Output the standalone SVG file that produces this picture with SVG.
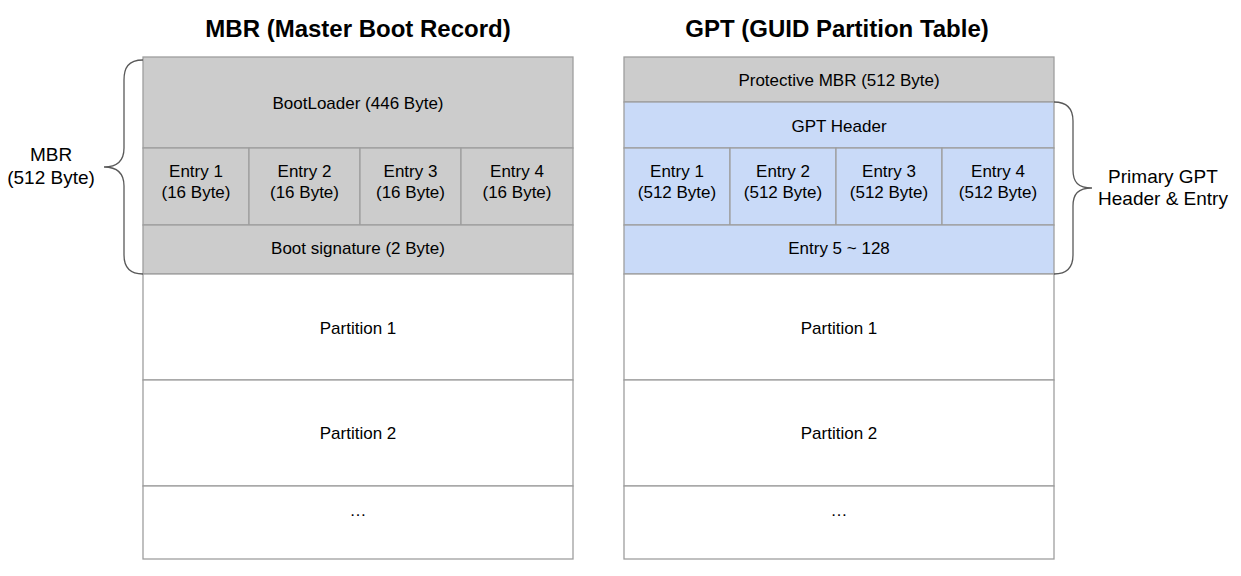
<svg xmlns="http://www.w3.org/2000/svg" width="1241" height="576" viewBox="0 0 1241 576">
  <style>
    .title { font-family: "Liberation Sans", Arial, sans-serif; font-size: 24px; font-weight: bold; fill: #000; text-anchor: middle; }
    .cell  { font-family: "Liberation Sans", Arial, sans-serif; font-size: 17px; fill: #000; text-anchor: middle; dominant-baseline: central; }
    .side  { font-family: "Liberation Sans", Arial, sans-serif; font-size: 19px; fill: #000; text-anchor: middle; dominant-baseline: central; }
    .grey  { fill: #cccccc; stroke: #9e9e9e; stroke-width: 1.3; }
    .blue  { fill: #c9daf8; stroke: #9e9e9e; stroke-width: 1.3; }
    .white { fill: #ffffff; stroke: #9e9e9e; stroke-width: 1.3; }
    .brace { fill: none; stroke: #595959; stroke-width: 1.3; }
  </style>

  <text class="title" x="358" y="37">MBR (Master Boot Record)</text>
  <text class="title" x="837" y="37">GPT (GUID Partition Table)</text>

  <!-- MBR layout -->
  <g id="mbr">
    <g id="mbr-bootloader">
      <rect class="grey" x="143" y="57" width="430" height="91"/>
      <text class="cell" x="358" y="103">BootLoader (446 Byte)</text>
    </g>
    <g id="mbr-entry1">
      <rect class="grey" x="143" y="148" width="106" height="77"/>
      <text class="cell" x="196" y="171">Entry 1</text>
      <text class="cell" x="196" y="192">(16 Byte)</text>
    </g>
    <g id="mbr-entry2">
      <rect class="grey" x="249" y="148" width="111" height="77"/>
      <text class="cell" x="304.5" y="171">Entry 2</text>
      <text class="cell" x="304.5" y="192">(16 Byte)</text>
    </g>
    <g id="mbr-entry3">
      <rect class="grey" x="360" y="148" width="101" height="77"/>
      <text class="cell" x="410.5" y="171">Entry 3</text>
      <text class="cell" x="410.5" y="192">(16 Byte)</text>
    </g>
    <g id="mbr-entry4">
      <rect class="grey" x="461" y="148" width="112" height="77"/>
      <text class="cell" x="517" y="171">Entry 4</text>
      <text class="cell" x="517" y="192">(16 Byte)</text>
    </g>
    <g id="mbr-signature">
      <rect class="grey" x="143" y="225" width="430" height="49"/>
      <text class="cell" x="358" y="248">Boot signature (2 Byte)</text>
    </g>
    <g id="mbr-partition1">
      <rect class="white" x="143" y="274" width="430" height="106"/>
      <text class="cell" x="358" y="328">Partition 1</text>
    </g>
    <g id="mbr-partition2">
      <rect class="white" x="143" y="380" width="430" height="106"/>
      <text class="cell" x="358" y="433">Partition 2</text>
    </g>
    <g id="mbr-more">
      <rect class="white" x="143" y="486" width="430" height="73"/>
      <text class="cell" x="358" y="510">…</text>
    </g>
  </g>

  <!-- GPT layout -->
  <g id="gpt">
    <g id="gpt-protective">
      <rect class="grey" x="624" y="57" width="430" height="45"/>
      <text class="cell" x="839" y="80">Protective MBR (512 Byte)</text>
    </g>
    <g id="gpt-header">
      <rect class="blue" x="624" y="102" width="430" height="46"/>
      <text class="cell" x="839" y="126">GPT Header</text>
    </g>
    <g id="gpt-entry1">
      <rect class="blue" x="624" y="148" width="106" height="77"/>
      <text class="cell" x="677" y="171">Entry 1</text>
      <text class="cell" x="677" y="192">(512 Byte)</text>
    </g>
    <g id="gpt-entry2">
      <rect class="blue" x="730" y="148" width="106" height="77"/>
      <text class="cell" x="783" y="171">Entry 2</text>
      <text class="cell" x="783" y="192">(512 Byte)</text>
    </g>
    <g id="gpt-entry3">
      <rect class="blue" x="836" y="148" width="106" height="77"/>
      <text class="cell" x="889" y="171">Entry 3</text>
      <text class="cell" x="889" y="192">(512 Byte)</text>
    </g>
    <g id="gpt-entry4">
      <rect class="blue" x="942" y="148" width="112" height="77"/>
      <text class="cell" x="998" y="171">Entry 4</text>
      <text class="cell" x="998" y="192">(512 Byte)</text>
    </g>
    <g id="gpt-entries-rest">
      <rect class="blue" x="624" y="225" width="430" height="49"/>
      <text class="cell" x="839" y="248">Entry 5 ~ 128</text>
    </g>
    <g id="gpt-partition1">
      <rect class="white" x="624" y="274" width="430" height="106"/>
      <text class="cell" x="839" y="328">Partition 1</text>
    </g>
    <g id="gpt-partition2">
      <rect class="white" x="624" y="380" width="430" height="106"/>
      <text class="cell" x="839" y="433">Partition 2</text>
    </g>
    <g id="gpt-more">
      <rect class="white" x="624" y="486" width="430" height="73"/>
      <text class="cell" x="839" y="510">…</text>
    </g>
  </g>

  <!-- braces -->
  <g id="braces">
    <path class="brace" d="M143,60 C128,60 124,68 124,80 L124,148 C124,160 118,167 104,167 C118,167 124,174 124,186 L124,255 C124,267 130,274 143,274"/>
    <path class="brace" d="M1054,102 C1067,102 1073,109 1073,121 L1073,170 C1073,182 1078,188 1092,188 C1078,188 1073,194 1073,206 L1073,255 C1073,267 1067,274 1054,274"/>
  </g>

  <g id="label-mbr">
    <text class="side" x="51" y="154">MBR</text>
    <text class="side" x="51" y="177">(512 Byte)</text>
  </g>
  <g id="label-gpt">
    <text class="side" x="1163" y="176">Primary GPT</text>
    <text class="side" x="1163" y="198">Header &amp; Entry</text>
  </g>
</svg>
